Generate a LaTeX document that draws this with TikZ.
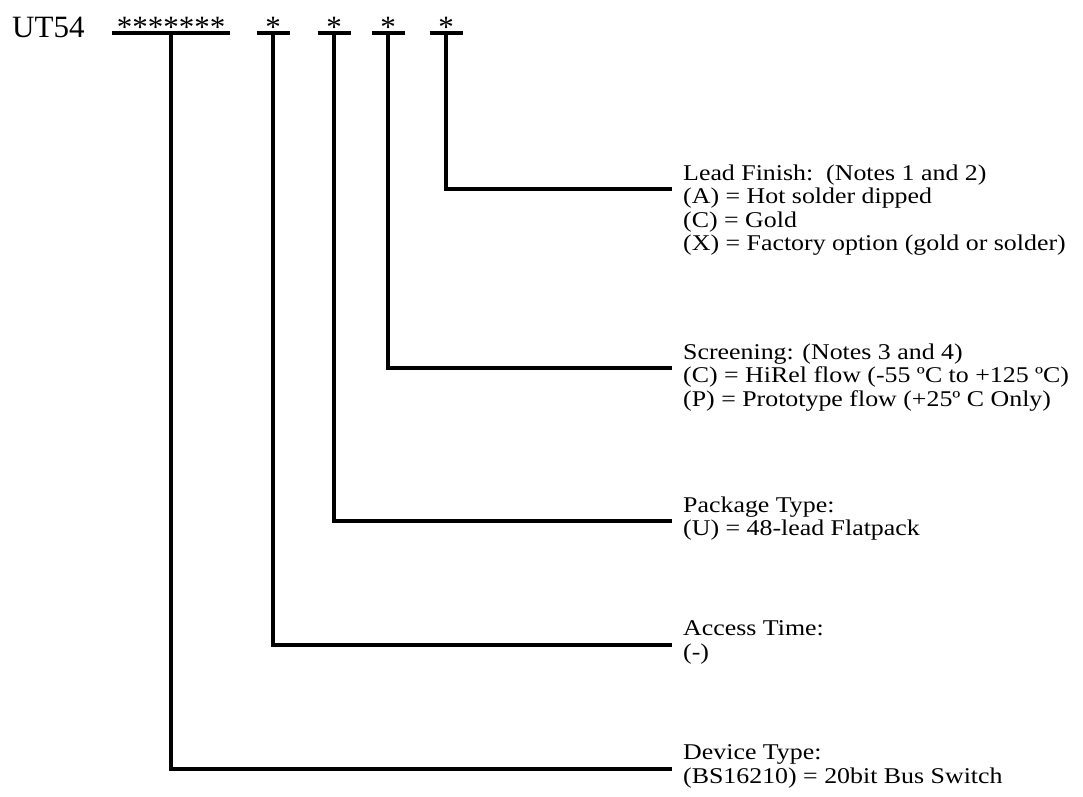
\documentclass[tikz,border=0pt]{standalone}
\usepackage{fontspec}
\setmainfont{Liberation Serif}
\newfontfamily\descfont[FakeStretch=1.15]{Liberation Serif}
\usetikzlibrary{positioning,calc}

\begin{document}
\begin{tikzpicture}[
  x=1pt, y=-1pt,
  code/.style={font=\fontsize{31}{36}\selectfont, inner sep=0pt, anchor=base},
  desc/.style={font={\fontsize{22.5}{23.5}\descfont}, align=left, inner sep=0pt,
               anchor=north west},
  bar/.style={line width=4pt},
  lead/.style={line width=4pt, line join=miter}
]
\useasboundingbox (0,0) rectangle (1083,796);

% ================= Part number =================
\node[code, anchor=base west] (pfx) at (12,37) {UT54};
\node[code] (dev) at (171,37) {*******};
\node[code] (acc) at (273,37) {*};
\node[code] (pkg) at (334,37) {*};
\node[code] (scr) at (388,37) {*};
\node[code] (fin) at (446,37) {*};

\foreach \n/\w in {dev/59, acc/16.5, pkg/16.5, scr/16.5, fin/16.5}
  \draw[bar] ([xshift=-\w pt, yshift=4pt]\n.base) -- ([xshift=\w pt, yshift=4pt]\n.base);

% ================= Field descriptions =================
\node[desc] (fintxt) at (683,164.5)
  {Lead Finish:\ \ (Notes 1 and 2)\\
   (A) = Hot solder dipped\\
   (C) = Gold\\
   (X) = Factory option (gold or solder)};
\node[desc] (scrtxt) at (683,343.5)
  {Screening: (Notes 3 and 4)\\
   (C) = HiRel flow (-55 ºC to +125 ºC)\\
   (P) = Prototype flow (+25º C Only)};
\node[desc] (pkgtxt) at (683,496.5)
  {Package Type:\\
   (U) = 48-lead Flatpack};
\node[desc] (acctxt) at (683,620.5)
  {Access Time:\\
   (-)};
\node[desc] (devtxt) at (683,744.5)
  {Device Type:\\
   (BS16210) = 20bit Bus Switch};

% ================= Leaders =================
\coordinate (finend) at (672,189);
\coordinate (scrend) at (672,368);
\coordinate (pkgend) at (672,521);
\coordinate (accend) at (672,645);
\coordinate (devend) at (672,769);

\foreach \n in {fin, scr, pkg, acc, dev}
  \draw[lead] ([yshift=4pt]\n.base) |- (\n end);

\end{tikzpicture}
\end{document}
